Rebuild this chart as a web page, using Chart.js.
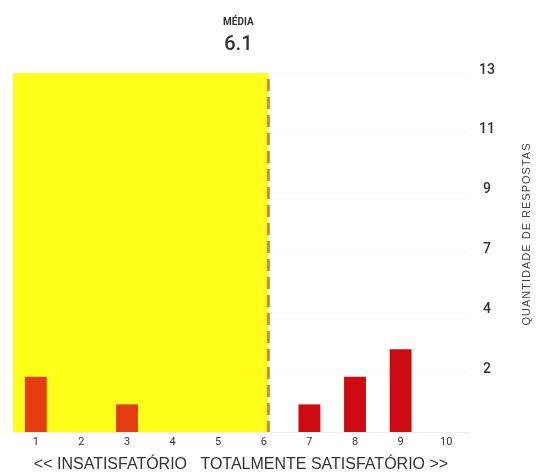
<!DOCTYPE html>
<html>
<head>
<meta charset="utf-8">
<script src="https://cdn.jsdelivr.net/npm/chart.js@4"></script>
<style>
  html, body { margin: 0; padding: 0; background: #fff; }
  #wrap { width: 540px; height: 474px; }
</style>
</head>
<body>
<div id="wrap"><canvas id="myChart" width="540" height="474"></canvas></div>
<script>
// data
const notas = ["1", "2", "3", "4", "5", "6", "7", "8", "9", "10"];
const respostas = [2, 0, 1, 0, 0, 0, 1, 2, 3, 0];
const media = 6.1;
const yMax = 13;
const yTickLabels = ["2", "4", "7", "9", "11", "13"];

const FONT = "Roboto, 'Liberation Sans', sans-serif";
const FONT2 = "'Liberation Sans', Arial, sans-serif";

// yellow band up to the mean, dashed mean line, mean label, right title
const mediaPlugin = {
    id: "media",
    beforeDatasetsDraw(chart) {
        const { ctx, chartArea, scales } = chart;
        const xm = scales.x.getPixelForValue(media - 1);
        ctx.save();
        ctx.fillStyle = "#ffff1a";
        ctx.fillRect(chartArea.left, chartArea.top, xm - chartArea.left, chartArea.bottom - chartArea.top);
        ctx.restore();
    },
    afterDatasetsDraw(chart) {
        const { ctx, chartArea, scales } = chart;
        const xm = scales.x.getPixelForValue(media - 1);
        ctx.save();
        ctx.strokeStyle = "#cf8a2a";
        ctx.lineWidth = 3;
        ctx.setLineDash([12, 6]);
        ctx.beginPath();
        ctx.moveTo(xm, chartArea.top + 6);
        ctx.lineTo(xm, chartArea.bottom);
        ctx.stroke();
        ctx.setLineDash([]);

        ctx.fillStyle = "#333";
        ctx.textAlign = "center";
        ctx.textBaseline = "middle";
        ctx.font = "bold 10px " + FONT;
        ctx.fillText("MÉDIA", xm - 30, 22);
        ctx.font = "500 20px " + FONT;
        ctx.fillText(media.toFixed(1), xm - 30, 45);

        // y title reads bottom to top
        ctx.translate(527, 234);
        ctx.rotate(-Math.PI / 2);
        ctx.font = "11px " + FONT2;
        ctx.letterSpacing = "1px";
        ctx.fillStyle = "#444";
        ctx.fillText("QUANTIDADE DE RESPOSTAS", 0, 0);
        ctx.restore();
    },
};

const data = {
    labels: notas,
    datasets: [
        {
            data: respostas,
            backgroundColor: (c) => (c.dataIndex < media - 1 ? "#e23c10" : "#cc0a10"),
            barPercentage: 0.48,
            categoryPercentage: 1,
        },
    ],
};

const config = {
    type: "bar",
    data: data,
    options: {
        responsive: false,
        animation: false,
        layout: { padding: { left: 13, top: 73, right: 0, bottom: 0 } },
        plugins: { legend: { display: false }, tooltip: { enabled: false } },
        scales: {
            x: {
                grid: { display: false, drawTicks: false },
                border: { display: true, color: "rgba(0,0,0,0.06)" },
                ticks: { color: "#333", font: { family: FONT, size: 11 }, padding: 4, maxRotation: 0 },
                title: {
                    display: true,
                    text: "<< INSATISFATÓRIO   TOTALMENTE SATISFATÓRIO >>",
                    color: "#333",
                    font: { family: FONT2, size: 16 },
                    padding: { top: 0, bottom: 0 },
                },
                afterFit(s) { s.height = 42; },
            },
            y: {
                position: "right",
                min: 0,
                max: yMax,
                grid: { color: "rgba(0,0,0,0.025)", drawTicks: false },
                border: { display: false },
                afterBuildTicks(s) {
                    s.ticks = yTickLabels.map((l, i) => ({ value: (yMax * (i + 1)) / yTickLabels.length }));
                },
                ticks: {
                    callback: (v, i) => yTickLabels[i],
                    color: "#333",
                    font: { family: FONT, size: 14, weight: "500" },
                    padding: 10,
                    crossAlign: "center",
                    labelOffset: -3,
                },
                afterFit(s) { s.width = 71; },
            },
        },
    },
    plugins: [mediaPlugin],
};

const myChart = new Chart(document.getElementById("myChart"), config);
</script>
</body>
</html>
